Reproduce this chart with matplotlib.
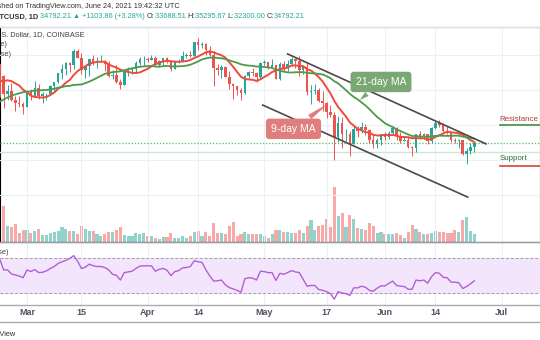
import numpy as np
import pandas as pd
import matplotlib
matplotlib.use("Agg")
import matplotlib.pyplot as plt
import matplotlib.dates as mdates
from matplotlib.lines import Line2D

# BTCUSD daily candles (Coinbase), 22 Feb - 24 Jun 2021, prices in thousand USD
dates = pd.date_range("2021-02-22", "2021-06-24", freq="D")

# closes 2 Feb - 21 Feb, only needed so the moving averages start right
warmup_close = [35.5, 37.7, 36.9, 38.3, 39.3, 38.9, 46.4, 46.5, 45.0, 48.0,
                47.4, 47.2, 48.6, 47.9, 49.2, 52.1, 51.6, 55.9, 55.9, 57.5]

opens = [57.5, 54.1, 48.9, 49.7, 47.1, 46.3, 46.1,
         45.2, 49.6, 48.4, 50.5, 48.4, 48.8, 48.9,
         51.2, 52.4, 54.9, 56.0, 57.8, 57.2, 61.2,
         59.0, 55.6, 56.9, 58.9, 57.7, 58.1, 58.1,
         57.4, 54.1, 54.3, 52.3, 51.3, 55.0, 55.8,
         55.9, 57.6, 58.8, 58.9, 58.7, 59.0, 57.1,
         58.2, 59.1, 58.0, 56.0, 58.1, 58.2, 59.8,
         59.9, 59.8, 63.6, 62.9, 63.2, 61.4, 60.0,
         56.2, 55.7, 56.5, 53.8, 51.7, 51.2, 50.1,
         49.1, 54.0, 55.0, 54.9, 53.6, 57.8, 57.9,
         56.6, 57.2, 53.2, 57.5, 56.4, 57.4, 58.9,
         58.3, 55.8, 56.7, 49.4, 49.7, 49.9, 46.8,
         46.4, 43.6, 42.9, 36.7, 40.6, 37.3, 37.5,
         34.7, 38.8, 38.3, 39.3, 38.5, 35.7, 34.6,
         35.7, 37.3, 36.7, 37.6, 39.2, 36.9, 35.5,
         35.8, 33.6, 33.4, 37.4, 36.7, 37.3, 35.5,
         39.0, 40.5, 40.1, 38.3, 38.1, 35.8, 35.5,
         35.6, 31.6, 32.5, 33.69]
highs = [57.5, 54.2, 51.4, 52.0, 48.4, 48.4, 46.6,
         49.8, 50.2, 52.6, 51.8, 49.5, 49.2, 51.4,
         52.4, 54.9, 57.4, 58.1, 58.0, 61.8, 61.6,
         60.6, 56.9, 58.9, 60.1, 59.4, 59.9, 58.6,
         58.4, 55.8, 57.2, 53.2, 55.1, 56.6, 56.6,
         58.4, 59.4, 59.8, 59.5, 60.1, 59.8, 58.5,
         59.2, 59.5, 58.6, 58.2, 58.9, 61.2, 60.7,
         61.2, 63.7, 64.9, 63.8, 63.5, 62.6, 61.0,
         57.5, 57.0, 56.8, 55.5, 52.1, 51.2, 50.6,
         54.4, 55.5, 56.4, 55.2, 58.0, 58.5, 57.9,
         58.9, 57.2, 57.9, 58.4, 58.7, 59.5, 59.2,
         59.6, 56.9, 58.0, 51.4, 51.6, 50.7, 49.8,
         46.6, 45.8, 43.6, 42.5, 42.2, 38.8, 38.3,
         39.9, 39.8, 40.8, 40.4, 38.8, 37.3, 36.4,
         37.5, 37.9, 38.2, 39.5, 39.3, 37.9, 36.5,
         36.8, 34.1, 37.5, 38.4, 37.7, 37.4, 39.4,
         41.0, 41.3, 40.5, 39.6, 38.2, 36.4, 36.1,
         35.7, 33.3, 34.9, 35.30]
lows = [48.0, 44.9, 47.0, 46.9, 44.1, 45.0, 43.0,
        45.0, 47.0, 48.1, 47.5, 46.3, 47.1, 48.9,
        49.3, 51.9, 53.1, 54.3, 55.0, 56.1, 59.0,
        54.6, 53.3, 54.1, 57.0, 56.3, 57.9, 55.5,
        53.7, 53.0, 52.0, 50.4, 51.3, 53.9, 54.7,
        54.9, 57.0, 56.9, 57.9, 58.5, 57.0, 56.5,
        56.8, 57.8, 55.5, 55.9, 57.7, 57.9, 59.2,
        59.4, 59.8, 61.3, 62.1, 60.0, 59.6, 51.0,
        54.2, 53.4, 53.6, 50.4, 47.5, 48.7, 47.0,
        48.8, 53.3, 53.9, 52.4, 53.1, 57.0, 56.0,
        56.5, 53.1, 52.9, 55.3, 55.3, 56.9, 56.3,
        54.0, 54.5, 48.6, 46.0, 48.9, 46.6, 43.9,
        42.1, 42.3, 30.0, 35.0, 33.5, 35.3, 31.1,
        34.5, 36.5, 37.8, 37.2, 34.8, 33.4, 33.4,
        34.2, 35.7, 35.9, 37.2, 35.6, 34.8, 35.3,
        33.4, 31.0, 32.4, 35.9, 35.9, 34.6, 34.8,
        38.8, 39.5, 38.1, 37.4, 35.1, 34.8, 33.3,
        31.3, 28.8, 31.7, 32.30]
closes = [54.1, 48.9, 49.7, 47.1, 46.3, 46.1, 45.2,
          49.6, 48.4, 50.5, 48.4, 48.8, 48.9, 51.2,
          52.4, 54.9, 56.0, 57.8, 57.2, 61.2, 59.0,
          55.6, 56.9, 58.9, 57.7, 58.1, 58.1, 57.4,
          54.1, 54.3, 52.3, 51.3, 55.0, 55.8, 55.9,
          57.6, 58.8, 58.9, 58.7, 59.0, 57.1, 58.2,
          59.1, 58.0, 56.0, 58.1, 58.2, 59.8, 59.9,
          59.8, 63.6, 62.9, 63.2, 61.4, 60.0, 56.2,
          55.7, 56.5, 53.8, 51.7, 51.2, 50.1, 49.1,
          54.0, 55.0, 54.9, 53.6, 57.8, 57.9, 56.6,
          57.2, 53.2, 57.5, 56.4, 57.4, 58.9, 58.3,
          55.8, 56.7, 49.4, 49.7, 49.9, 46.8, 46.4,
          43.6, 42.9, 36.7, 40.6, 37.3, 37.5, 34.7,
          38.8, 38.3, 39.3, 38.5, 35.7, 34.6, 35.7,
          37.3, 36.7, 37.6, 39.2, 36.9, 35.5, 35.8,
          33.6, 33.4, 37.4, 36.7, 37.3, 35.5, 39.0,
          40.5, 40.1, 38.3, 38.1, 35.8, 35.5, 35.6,
          31.6, 32.5, 33.7, 34.79]

# volume, thousand BTC
volume = [58, 84, 36, 34, 42, 20, 28, 28, 21, 26,
          30, 16, 16, 21, 23, 26, 34, 30, 26, 26,
          18, 38, 30, 26, 25, 18, 13, 18, 23, 23,
          28, 35, 16, 13, 14, 20, 18, 21, 14, 14,
          10, 8, 12, 12, 20, 10, 10, 14, 9, 15,
          22, 26, 14, 23, 14, 43, 21, 21, 19, 36,
          46, 15, 18, 22, 18, 18, 18, 18, 13, 9,
          18, 28, 28, 22, 22, 20, 21, 28, 20, 36,
          50, 28, 37, 40, 52, 34, 127, 60, 66, 34,
          62, 52, 32, 30, 28, 43, 37, 20, 22, 18,
          18, 18, 21, 17, 10, 22, 40, 31, 24, 18,
          18, 20, 26, 22, 22, 20, 20, 28, 22, 50,
          58, 26, 18]

rsi = [68.8, 56.4, 56.4, 51.8, 50.6, 49.4, 47.5, 56.4, 54.5, 56.8,
       53.3, 53.7, 55.3, 58.0, 60.3, 63.8, 65.7, 67.3, 69.6, 72.7,
       66.5, 58.0, 59.5, 63.0, 61.1, 60.3, 60.3, 59.1, 56.4, 51.4,
       50.2, 44.8, 53.3, 54.1, 54.9, 58.0, 60.7, 61.1, 61.1, 61.1,
       54.9, 57.2, 58.0, 56.0, 49.8, 54.5, 55.6, 58.7, 59.1, 60.3,
       66.9, 65.7, 65.0, 56.4, 49.4, 43.6, 44.0, 44.8, 39.3, 36.2,
       34.7, 33.1, 30.8, 46.3, 47.5, 47.1, 44.8, 54.9, 54.5, 53.3,
       53.3, 44.4, 52.5, 51.4, 53.3, 55.6, 54.1, 53.3, 45.6, 37.8,
       38.6, 38.6, 33.9, 33.1, 31.6, 29.3, 23.0, 31.6, 30.0, 29.3,
       27.3, 35.9, 35.9, 37.8, 36.6, 33.1, 32.0, 35.5, 38.2, 38.2,
       40.9, 43.6, 38.6, 37.8, 37.4, 34.3, 34.3, 44.8, 44.0, 44.8,
       41.3, 48.7, 53.3, 52.5, 47.9, 47.5, 42.4, 42.4, 41.7, 35.1,
       37.4, 40.5, 44.0]

tick_dates = ["2021-03-01", "2021-03-15", "2021-04-01", "2021-04-14", "2021-05-01",
              "2021-05-17", "2021-06-01", "2021-06-14", "2021-07-01"]
tick_labels = ["Mar", "15", "Apr", "14", "May", "17", "Jun", "14", "Jul"]

# drawn channel (date, price k$)
upper_channel = [("2021-05-07", 60.3), ("2021-06-27", 34.6)]
lower_channel = [("2021-04-30 14:00", 45.7), ("2021-06-22 07:00", 19.4)]
last_price = 34.79
day_low = 32.30

UP, DOWN = "#26a69a", "#ef5350"
UP_VOL, DOWN_VOL = "#92d2cc", "#f7a9a7"
FONT = ["Liberation Sans", "DejaVu Sans"]

W, H = 540, 340
fig = plt.figure(figsize=(W / 100, H / 100), dpi=100)
renderer = fig.canvas.get_renderer()


def px(x, y):
    return x / W, 1 - y / H


def fit_size(text, width_px, weight="normal"):
    probe = fig.text(0, 0, text, fontsize=10, family=FONT, fontweight=weight)
    w = probe.get_window_extent(renderer).width
    probe.remove()
    return 10 * width_px / w


ax = fig.add_axes([0, (H - 242) / H, 1, 215 / H])
rsi_ax = fig.add_axes([0, (H - 305) / H, 1, 63 / H])

x = mdates.date2num(dates)
o, h, l, c = map(np.array, (opens, highs, lows, closes))
up = c >= o

all_close = pd.Series(warmup_close + closes)
ma9 = all_close.rolling(9).mean().values[len(warmup_close):]
ma21 = all_close.rolling(21, min_periods=20).mean().values[len(warmup_close):]

day_px = 3.89
x_left = x[0] + 0.06
x_right = x_left + W / day_px

# volume on a twin axis at the bottom of the price pane
vol_ax = ax.twinx()
vol_ax.bar(x, volume, width=0.8, color=np.where(up, UP_VOL, DOWN_VOL), linewidth=0)
vol_ax.set_ylim(0, 127 * 215 / 55)
vol_ax.set_yticks([])
ax.set_zorder(vol_ax.get_zorder() + 1)
ax.patch.set_visible(False)

for ticks_num in mdates.date2num(pd.to_datetime(tick_dates)):
    ax.axvline(ticks_num, color="#ebeff6", lw=0.8, zorder=0)
    rsi_ax.axvline(ticks_num, color="#ebeff6", lw=0.8, zorder=0)
for g in [20, 30, 40, 50, 60]:
    ax.axhline(g, color="#ebeff6", lw=0.8, zorder=0)

ax.axhline(day_low, color="#cde8cf", lw=1.0, zorder=1)
ax.axhline(last_price, color="#5cb85c", lw=0.9, ls=(0, (1, 1.5)), zorder=1)

# candles
colors = np.where(up, UP, DOWN)
ax.vlines(x, l, h, colors=colors, lw=0.7, zorder=3)
ax.bar(x, np.maximum(np.abs(c - o), 0.12), bottom=np.minimum(o, c), width=0.65,
       color=colors, linewidth=0, zorder=4)

ax.plot(x, ma9, color="#ef4a3c", lw=1.4, zorder=5)
ax.plot(x, ma21, color="#4e9a4a", lw=1.3, zorder=5)

for line in (upper_channel, lower_channel):
    lx = mdates.date2num(pd.to_datetime([p[0] for p in line]))
    ax.plot(lx, [p[1] for p in line], color="#4a4a4a", lw=1.2, zorder=6)

ax.annotate("21-day MA", xy=(mdates.date2num(pd.Timestamp("2021-05-25")), 46.6),
            xytext=(mdates.date2num(pd.Timestamp("2021-05-31")), 52.3),
            ha="center", va="center", color="white", fontsize=7.5, family=FONT, zorder=7,
            bbox=dict(boxstyle="round,pad=0.5,rounding_size=0.3", fc="#7aa874", ec="none"),
            arrowprops=dict(arrowstyle="wedge,tail_width=0.5,shrink_factor=0.5",
                            fc="#7aa874", ec="none"))
ax.annotate("9-day MA", xy=(mdates.date2num(pd.Timestamp("2021-05-18")), 46.6),
            xytext=(mdates.date2num(pd.Timestamp("2021-05-08 12:00")), 38.9),
            ha="center", va="center", color="white", fontsize=7.5, family=FONT, zorder=7,
            bbox=dict(boxstyle="round,pad=0.5,rounding_size=0.3", fc="#e07d7d", ec="none"),
            arrowprops=dict(arrowstyle="wedge,tail_width=0.5,shrink_factor=0.5",
                            fc="#e07d7d", ec="none"))

lab_x = mdates.date2num(pd.Timestamp("2021-06-30 12:00"))
lab_size = fit_size("Resistance", 39)
ax.plot([lab_x, x_right], [40.0, 40.0], color="#3f8f3f", lw=1.2)
ax.text(lab_x, 41.7, "Resistance", color="#b03a3a", fontsize=lab_size, family=FONT, va="center")
ax.plot([lab_x, x_right], [28.4, 28.4], color="#d9413a", lw=1.2)
ax.text(lab_x, 30.3, "Support", color="#2f6f35", fontsize=lab_size, family=FONT, va="center")

ax.set_xlim(x_left, x_right)
ax.set_ylim(6.57, 68.0)
ax.axis("off")

# RSI pane
rsi_ax.axhspan(30, 70, color="#f3e6fc", zorder=0)
rsi_ax.axhline(70, color="#a0a0a8", lw=0.7, ls=(0, (3, 2)))
rsi_ax.axhline(30, color="#a0a0a8", lw=0.7, ls=(0, (3, 2)))
rsi_ax.plot(x, rsi, color="#b35fd4", lw=1.0)
rsi_ax.set_xlim(x_left, x_right)
rsi_ax.set_ylim(16.3, 88.3)
rsi_ax.set_yticks([])
rsi_ax.set_xticks(mdates.date2num(pd.to_datetime(tick_dates)))
rsi_ax.set_xticklabels(tick_labels, fontsize=6.5, color="#50535e", fontweight="bold", family=FONT)
rsi_ax.tick_params(axis="x", length=0, pad=2.5)
for s in rsi_ax.spines.values():
    s.set_visible(False)

# pane separators
for yy, col in [(27, "#e3e6ec"), (242, "#9a9da5"), (305, "#a8abb2"), (322, "#a8abb2")]:
    fig.add_artist(Line2D([0, 1], [1 - yy / H] * 2, color=col, lw=1.0))

# header texts (the screenshot is cropped on the left, so they run off the edge)
size = fit_size("hed on TradingView.com, June 24, 2021 19:42:32 UTC", 180)

fig.text(*px(180, 7), "Published on TradingView.com, June 24, 2021 19:42:32 UTC",
         ha="right", va="center", fontsize=size, color="#333333", family=FONT)


def put_row(x0, y0, parts):
    xx = x0
    for s, col, wt in parts:
        t = fig.text(*px(xx, y0), s, ha="left", va="center", fontsize=size,
                     color=col, fontweight=wt, family=FONT)
        xx = t.get_window_extent(renderer).x1


dark = "#333333"
put_row(-6, 17, [("BTCUSD, 1D ", dark, "bold"), ("34792.21 ▲ +1103.86 (+3.28%) ", UP, "normal"),
                 ("O:", dark, "normal"), ("33688.51 ", UP, "normal"),
                 ("H:", dark, "normal"), ("35295.67 ", UP, "normal"),
                 ("L:", dark, "normal"), ("32300.00 ", UP, "normal"),
                 ("C:", dark, "normal"), ("34792.21", UP, "normal")])

fig.text(*px(84, 35), "Bitcoin / U.S. Dollar, 1D, COINBASE", ha="right", va="center",
         fontsize=size, color="#444444", family=FONT)
fig.text(*px(7, 45), "MA (9, close)", ha="right", va="center", fontsize=size, color="#444444", family=FONT)
fig.text(*px(11, 55), "MA (21, close)", ha="right", va="center", fontsize=size, color="#444444", family=FONT)
fig.text(*px(9, 253), "RSI (14, close)", ha="right", va="center", fontsize=size, color="#444444", family=FONT)
fig.text(*px(16, 334), "TradingView", ha="right", va="center", fontsize=size, color="#333333", family=FONT)

fig.savefig("out.png", dpi=100)
